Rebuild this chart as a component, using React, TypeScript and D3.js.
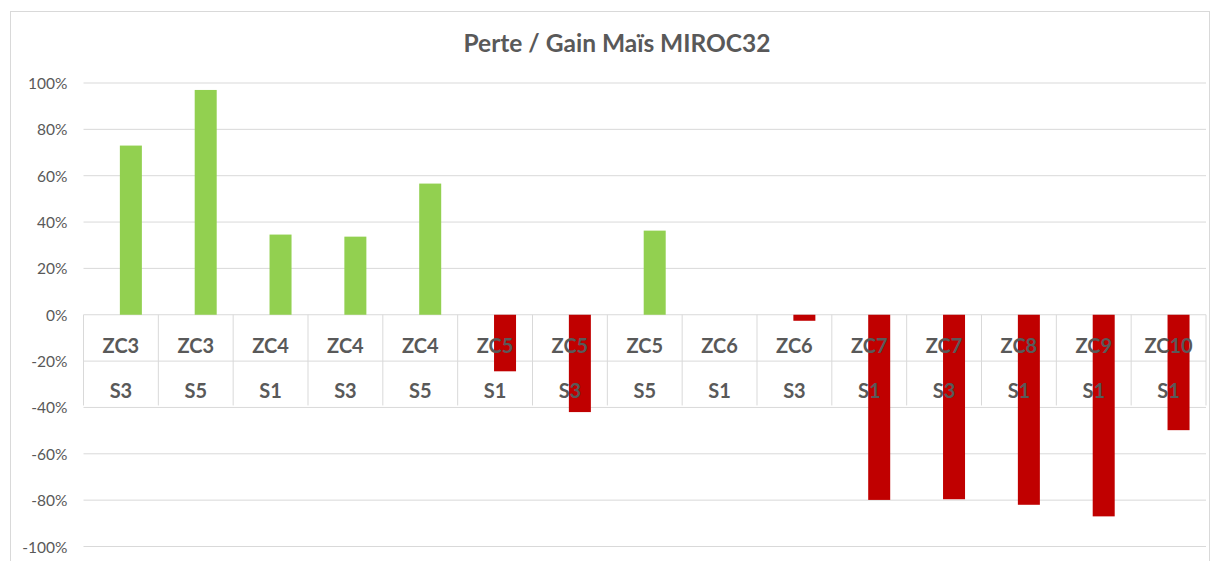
import React from "react";
import * as d3 from "d3";

const zones = ["ZC3", "ZC3", "ZC4", "ZC4", "ZC4", "ZC5", "ZC5", "ZC5", "ZC6", "ZC6", "ZC7", "ZC7", "ZC8", "ZC9", "ZC10"];
const scenarios = ["S3", "S5", "S1", "S3", "S5", "S1", "S3", "S5", "S1", "S3", "S1", "S3", "S1", "S1", "S1"];
const values = [73, 97, 34.6, 33.7, 56.6, -24.4, -42, 36.3, 0, -2.6, -79.9, -79.6, -82, -87, -49.8];
const yTicks = [100, 80, 60, 40, 20, 0, -20, -40, -60, -80, -100];

const W = 1213;
const H = 561;
const grey = "#595959";
const grid = "#D9D9D9";
const font = "Lato, 'Open Sans', sans-serif";

export default function App() {
  const idx = values.map((_, i) => String(i));
  const x = d3.scaleBand().domain(idx).range([83.5, 1206]);
  const y = d3.scaleLinear().domain([-100, 100]).range([546.5, 83]);
  const bw = x.bandwidth();
  const barW = bw * 0.294;
  const barCenter = (i: number) => (x(String(i)) as number) + bw * 0.633;
  const row1 = y(-20);
  const row2 = y(-40);

  return (
    <svg
      width={W}
      height={H}
      style={{ position: "absolute", left: 0, top: 0, background: "#fff" }}
    >
      <rect x={10.5} y={11.5} width={1199} height={H} fill="#fff" stroke={grid} />
      <text
        x={617}
        y={52}
        textAnchor="middle"
        fontFamily={font}
        fontWeight="bold"
        fontSize={24.5}
        fill={grey}
      >
        Perte / Gain Maïs MIROC32
      </text>

      {/* grid */}
      {yTicks.map((t) => (
        <g key={t}>
          <line x1={83.5} x2={1206} y1={y(t)} y2={y(t)} stroke={grid} strokeWidth={1} />
          <text
            x={67.5}
            y={y(t) + 6}
            textAnchor="end"
            fontFamily={font}
            fontSize={15.5}
            fill={grey}
          >
            {t + "%"}
          </text>
        </g>
      ))}

      {/* category table dividers */}
      {idx.concat([String(values.length)]).map((k, i) => {
        const xv = i < values.length ? (x(k) as number) : 1206;
        return (
          <line key={"d" + k} x1={xv} x2={xv} y1={y(0)} y2={row2 - 2} stroke={grid} strokeWidth={1} />
        );
      })}

      {/* bars */}
      {values.map((v, i) => (
        <rect
          key={"b" + i}
          x={barCenter(i) - barW / 2}
          y={y(Math.max(0, v))}
          width={barW}
          height={Math.abs(y(v) - y(0))}
          fill={v >= 0 ? "#92D050" : "#C00000"}
        />
      ))}

      {/* category labels */}
      {values.map((_, i) => {
        const cx = (x(String(i)) as number) + bw / 2;
        return (
          <g key={"l" + i} fontFamily={font} fontWeight="bold" fontSize={20} fill={grey} textAnchor="middle">
            <text x={cx} y={(y(0) + row1) / 2 + 15.5}>{zones[i]}</text>
            <text x={cx} y={(row1 + row2) / 2 + 14}>{scenarios[i]}</text>
          </g>
        );
      })}
    </svg>
  );
}
